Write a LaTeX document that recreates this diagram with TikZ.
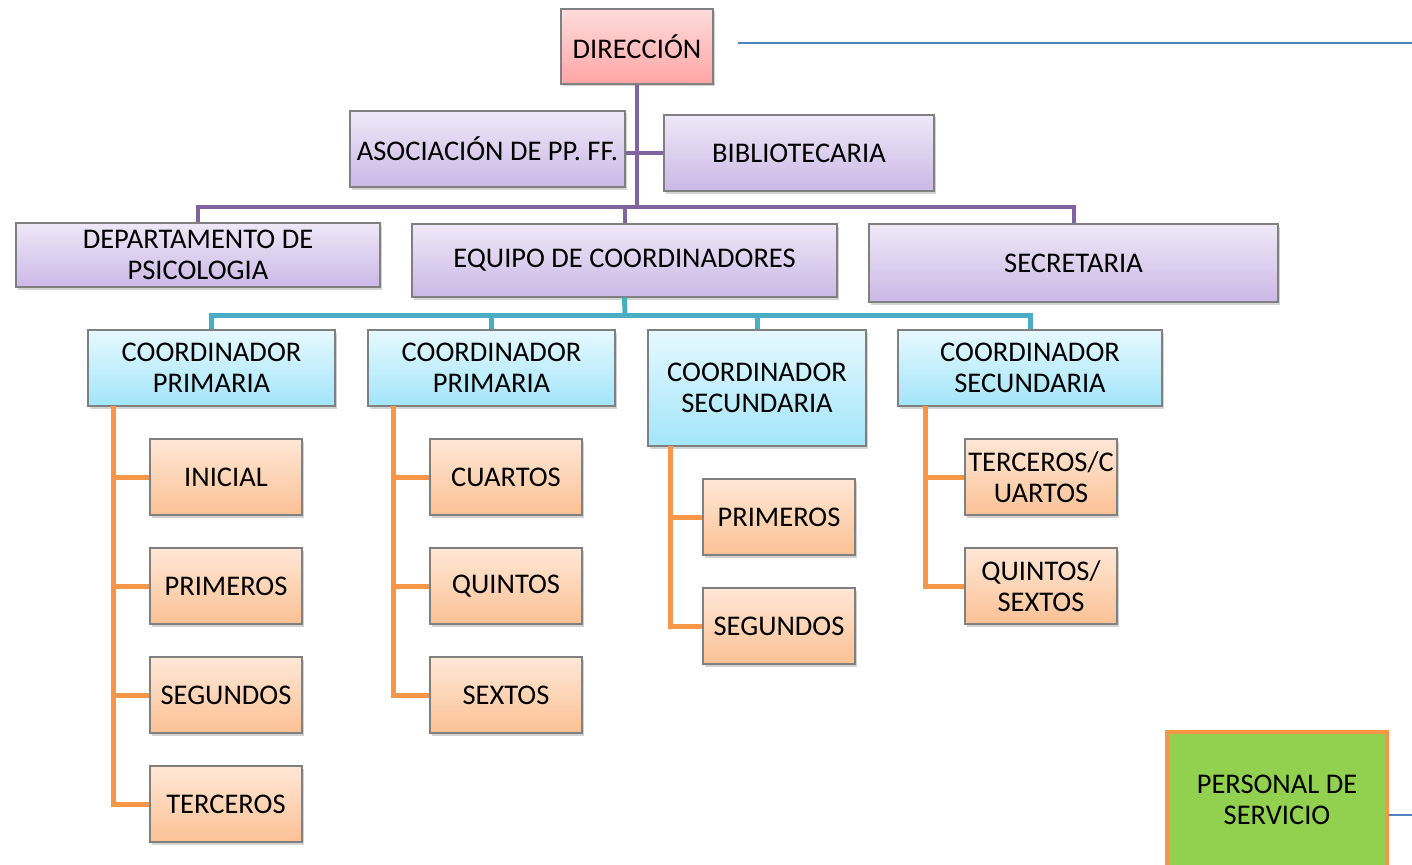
\documentclass[tikz,border=0pt]{standalone}
\usepackage{fontspec}
\setmainfont{Carlito}
\usetikzlibrary{shadows}
\definecolor{boxgray}{HTML}{808080}
\definecolor{pinktop}{HTML}{FFDCDC}
\definecolor{pinkbot}{HTML}{FFA5A5}
\definecolor{liltop}{HTML}{EEE8F7}
\definecolor{lilbot}{HTML}{CBB8E6}
\definecolor{cyantop}{HTML}{E6F9FE}
\definecolor{cyanbot}{HTML}{A2E5FA}
\definecolor{orgtop}{HTML}{FFE7D6}
\definecolor{orgbot}{HTML}{FBC195}
\definecolor{purpleline}{HTML}{8064A2}
\definecolor{tealline}{HTML}{4BACC6}
\definecolor{orangeline}{HTML}{F79646}
\definecolor{blueline}{HTML}{4F81BD}
\definecolor{grass}{HTML}{92D050}

\begin{document}
\begin{tikzpicture}[x=1pt,y=-1pt]
			\tikzstyle{every node}+=[inner sep=0pt, align=center, font=\fontsize{28.5}{31}\selectfont]
			\tikzstyle{box}=[draw=boxgray, line width=1.2pt, drop shadow={opacity=0.35, shadow xshift=1.5pt, shadow yshift=-2.5pt}]
			\tikzstyle{dirbox}=[box, top color=pinktop, bottom color=pinkbot]
			\tikzstyle{lilbox}=[box, top color=liltop, bottom color=lilbot]
			\tikzstyle{coordbox}=[box, top color=cyantop, bottom color=cyanbot]
			\tikzstyle{gradebox}=[box, top color=orgtop, bottom color=orgbot, minimum width=152pt, minimum height=76pt]
			\tikzstyle{lilwire}=[purpleline, line width=4pt]
			\tikzstyle{tealwire}=[tealline, line width=5pt]
			\tikzstyle{orgwire}=[orangeline, line width=5pt]
			\useasboundingbox (0,0) rectangle (1412,864);
			\node [dirbox, minimum width=152pt, minimum height=75pt] (dir) at (637,46.5) {DIRECCIÓN};
			\node [lilbox, minimum width=275pt, minimum height=76pt] (asoc) at (487.5,149) {ASOCIACIÓN DE PP. FF.};
			\node [lilbox, minimum width=270pt, minimum height=76pt] (bib) at (799,153) {BIBLIOTECARIA};
			\node [lilbox, minimum width=364pt, minimum height=64pt] (dep) at (198,255) {DEPARTAMENTO DE\\PSICOLOGIA};
			\node [lilbox, minimum width=425pt, minimum height=73pt] (eq) at (624.5,260.5) {EQUIPO DE COORDINADORES};
			\node [lilbox, minimum width=409pt, minimum height=78pt] (sec) at (1073.5,263) {SECRETARIA};
			\node [coordbox, minimum width=247pt, minimum height=76pt] (cp1) at (211.5,368) {COORDINADOR\\PRIMARIA};
			\node [coordbox, minimum width=247pt, minimum height=76pt] (cp2) at (491.5,368) {COORDINADOR\\PRIMARIA};
			\node [coordbox, minimum width=218pt, minimum height=116pt] (cs1) at (757,388) {COORDINADOR\\SECUNDARIA};
			\node [coordbox, minimum width=264pt, minimum height=76pt] (cs2) at (1030,368) {COORDINADOR\\SECUNDARIA};
			\node [gradebox] (ini) at (226,477) {INICIAL};
			\node [gradebox] (pri1) at (226,586) {PRIMEROS};
			\node [gradebox] (seg1) at (226,695) {SEGUNDOS};
			\node [gradebox] (ter1) at (226,804) {TERCEROS};
			\node [gradebox] (cua) at (506,477) {CUARTOS};
			\node [gradebox] (qui) at (506,586) {QUINTOS};
			\node [gradebox] (sex) at (506,695) {SEXTOS};
			\node [gradebox] (pri2) at (779,517) {PRIMEROS};
			\node [gradebox] (seg2) at (779,626) {SEGUNDOS};
			\node [gradebox] (tercua) at (1041,477) {TERCEROS/C\\UARTOS};
			\node [gradebox] (quisex) at (1041,586) {QUINTOS/\\SEXTOS};
			\node [draw=orangeline, line width=4.5pt, fill=grass, minimum width=220pt, minimum height=136pt] (pers) at (1277,800) {PERSONAL DE\\SERVICIO};
			\coordinate (bus1) at (637,207);
			\coordinate (bus2) at (625,315);
			\coordinate (s1) at (113,406);
			\coordinate (s2) at (393,406);
			\coordinate (s3) at (670,446);
			\coordinate (s4) at (925,406);
			\coordinate (top1) at (738,43);
			\coordinate (top2) at (1412,43);
			\coordinate (low2) at (1412,815);
			\draw [lilwire] (dir) -- (bus1);
			\draw [lilwire] (asoc.east |- bib.west) -- (bib.west);
			\draw [lilwire] (dep.north) |- (bus1) -| (sec.north);
			\draw [lilwire] (eq.north) -- (eq.north |- bus1);
			\draw [tealwire] (eq.south) -- (bus2);
			\draw [tealwire] (cp1.north) |- (bus2) -| (cs2.north);
			\draw [tealwire] (cp2.north) -- (cp2.north |- bus2);
			\draw [tealwire] (cs1.north) -- (cs1.north |- bus2);
			\draw [orgwire] (s1) |- (ter1.west);
			\foreach \g in {ini,pri1,seg1} \draw [orgwire] (\g.west) -- (\g.west -| s1);
			\draw [orgwire] (s2) |- (sex.west);
			\foreach \g in {cua,qui} \draw [orgwire] (\g.west) -- (\g.west -| s2);
			\draw [orgwire] (s3) |- (seg2.west);
			\draw [orgwire] (pri2.west) -- (pri2.west -| s3);
			\draw [orgwire] (s4) |- (quisex.west);
			\draw [orgwire] (tercua.west) -- (tercua.west -| s4);
			\draw [blueline, line width=1.5pt] (top1) -- (top2);
			\draw [blueline, line width=1.5pt] (pers.east |- low2) -- (low2);
		\end{tikzpicture}
\end{document}
